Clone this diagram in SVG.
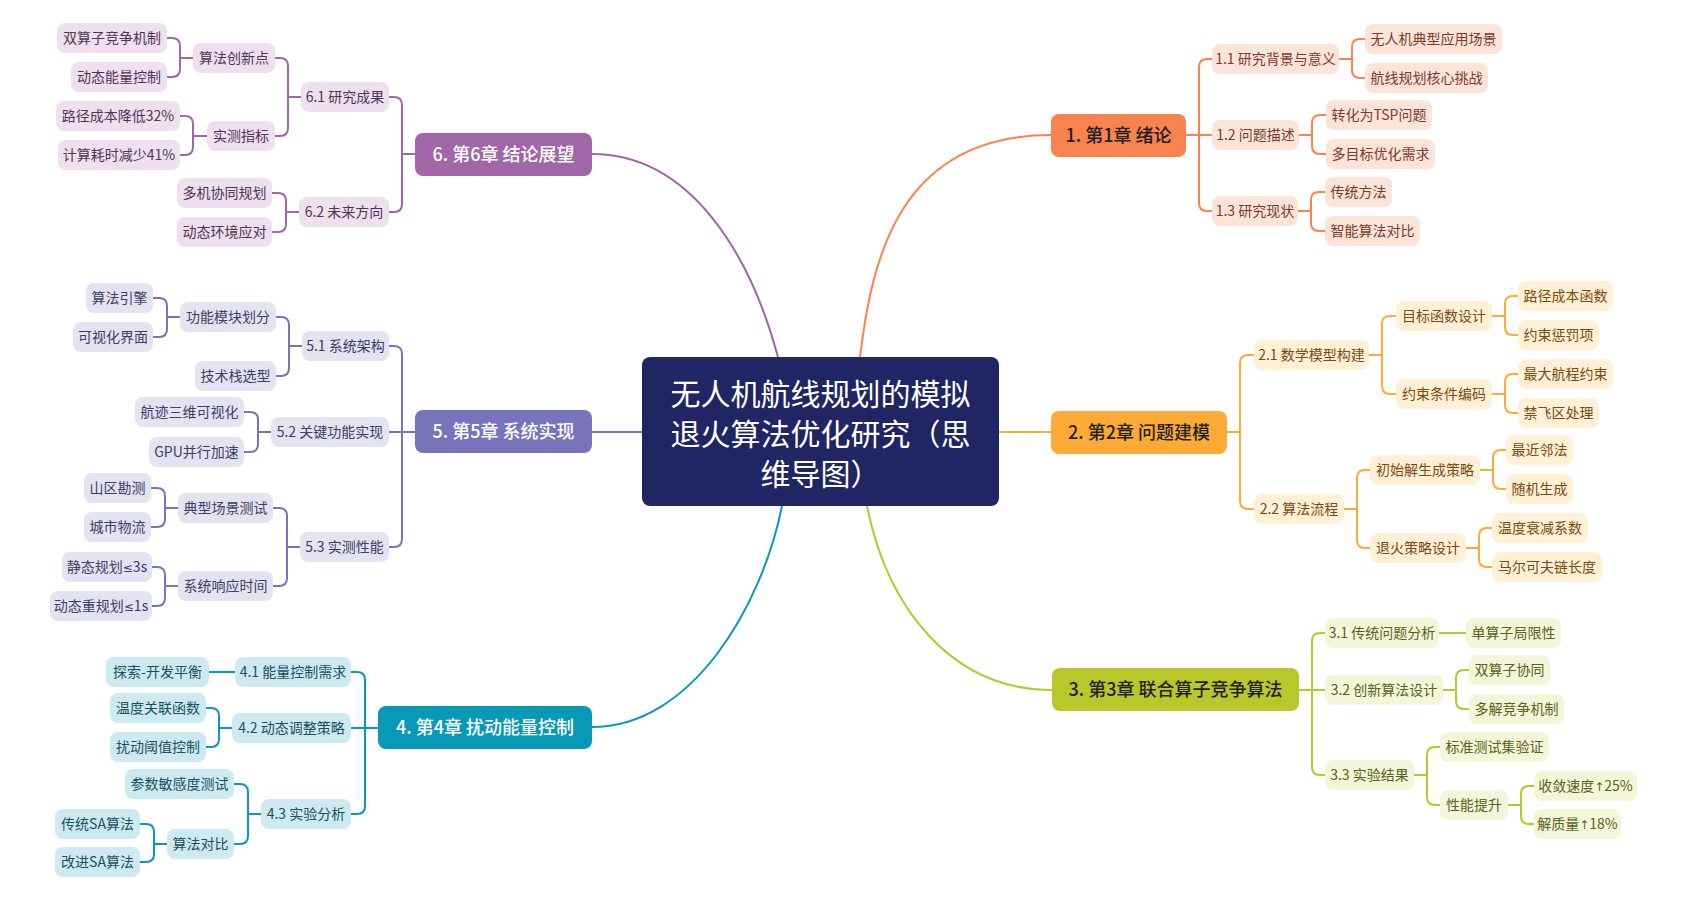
<svg xmlns="http://www.w3.org/2000/svg" width="1688" height="900" viewBox="0 0 1688 900">
<style>
text{font-family:"Noto Sans CJK SC","Noto Sans",sans-serif;text-anchor:middle}
.s{font-size:14px}
.ch{font-size:18px;font-weight:500}
.rt{font-size:30px;fill:#ffffff}
.sym{font-family:"DejaVu Sans",sans-serif;font-size:12px}
.l1{stroke:#F8834F}.l2{stroke:#FDAA36}.l3{stroke:#B9C72B}.l4{stroke:#0899B7}.l5{stroke:#7774BC}.l6{stroke:#A066A8}
.f1{fill:#FDE4D9}.f2{fill:#FFF0D6}.f3{fill:#F3F6D9}.f4{fill:#CDEAF2}.f5{fill:#E4E3F2}.f6{fill:#EEE0EF}
.t1{fill:#7A3A2C}.t2{fill:#7A4A10}.t3{fill:#5B6120}.t4{fill:#1D4F5C}.t5{fill:#3E3D63}.t6{fill:#4F3555}
.F1{fill:#F8834F}.F2{fill:#FDAA36}.F3{fill:#B9C72B}.F4{fill:#0899B7}.F5{fill:#7774BC}.F6{fill:#A066A8}
.dk{fill:#1f1f1f}.wt{fill:#ffffff}
</style>
<rect width="1688" height="900" fill="#ffffff"/>
<g id="connectors" fill="none" stroke-width="2">
<g class="l6"><path d="M592,154 C692,154 751,257 778,357"/>
<path d="M415,154 H402 V105 Q402,97 394,97 H389"/><path d="M415,154 H402 V204 Q402,212 394,212 H389"/>
<path d="M301,97 H288 V66 Q288,58 280,58 H275"/><path d="M301,97 H288 V128 Q288,136 280,136 H275"/>
<path d="M193,58 H180 V46 Q180,38 172,38 H167"/><path d="M193,58 H180 V69 Q180,77 172,77 H167"/>
<path d="M207,136 H193 V124 Q193,116 185,116 H180"/><path d="M207,136 H193 V147 Q193,155 185,155 H180"/>
<path d="M299,212 H286 V201 Q286,193 278,193 H272"/><path d="M299,212 H286 V224 Q286,232 278,232 H272"/></g>
<g class="l1"><path d="M1051,135 C900,135 872,257 860,357"/>
<path d="M1186,135 H1199 V67 Q1199,59 1207,59 H1212"/><path d="M1186,135 H1212"/><path d="M1186,135 H1199 V203 Q1199,211 1207,211 H1212"/>
<path d="M1339,59 H1352 V47 Q1352,39 1360,39 H1365"/><path d="M1339,59 H1352 V70 Q1352,78 1360,78 H1365"/>
<path d="M1299,135 H1312 V123 Q1312,115 1320,115 H1326"/><path d="M1299,135 H1312 V146 Q1312,154 1320,154 H1326"/>
<path d="M1298,211 H1311 V200 Q1311,192 1319,192 H1325"/><path d="M1298,211 H1311 V223 Q1311,231 1319,231 H1325"/></g>
<g class="l2"><path d="M999,432 H1051"/>
<path d="M1227,432 H1240 V363 Q1240,355 1248,355 H1254"/><path d="M1227,432 H1240 V501 Q1240,509 1248,509 H1254"/>
<path d="M1369,355 H1382 V324 Q1382,316 1390,316 H1396"/><path d="M1369,355 H1382 V386 Q1382,394 1390,394 H1396"/>
<path d="M1492,316 H1505 V304 Q1505,296 1513,296 H1518"/><path d="M1492,316 H1505 V327 Q1505,335 1513,335 H1518"/>
<path d="M1492,394 H1505 V382 Q1505,374 1513,374 H1518"/><path d="M1492,394 H1505 V405 Q1505,413 1513,413 H1518"/>
<path d="M1344,509 H1357 V478 Q1357,470 1365,470 H1370"/><path d="M1344,509 H1357 V540 Q1357,548 1365,548 H1370"/>
<path d="M1480,470 H1493 V458 Q1493,450 1501,450 H1506"/><path d="M1480,470 H1493 V481 Q1493,489 1501,489 H1506"/>
<path d="M1466,548 H1479 V536 Q1479,528 1487,528 H1492"/><path d="M1466,548 H1479 V559 Q1479,567 1487,567 H1492"/></g>
<g class="l3"><path d="M867,506 C887,606 950,690 1052,690"/>
<path d="M1299,690 H1312 V641 Q1312,633 1320,633 H1325"/><path d="M1299,690 H1325"/><path d="M1299,690 H1312 V767 Q1312,775 1320,775 H1325"/>
<path d="M1439,633 H1466"/>
<path d="M1443,690 H1456 V678 Q1456,670 1464,670 H1469"/><path d="M1443,690 H1456 V701 Q1456,709 1464,709 H1469"/>
<path d="M1414,775 H1427 V755 Q1427,747 1435,747 H1440"/><path d="M1414,775 H1427 V797 Q1427,805 1435,805 H1440"/>
<path d="M1508,805 H1521 V794 Q1521,786 1529,786 H1534"/><path d="M1508,805 H1521 V816 Q1521,824 1529,824 H1534"/></g>
<g class="l4"><path d="M782,506 C762,606 692,727 592,727"/>
<path d="M378,728 H365 V680 Q365,672 357,672 H351"/><path d="M378,728 H351"/><path d="M378,728 H365 V806 Q365,814 357,814 H351"/>
<path d="M235,672 H209"/>
<path d="M232,728 H219 V716 Q219,708 211,708 H206"/><path d="M232,728 H219 V739 Q219,747 211,747 H206"/>
<path d="M261,814 H248 V792 Q248,784 240,784 H234"/><path d="M261,814 H248 V836 Q248,844 240,844 H234"/>
<path d="M167,844 H154 V832 Q154,824 146,824 H140"/><path d="M167,844 H154 V854 Q154,862 146,862 H140"/></g>
<g class="l5"><path d="M592,432 H642"/>
<path d="M415,432 H402 V354 Q402,346 394,346 H389"/><path d="M415,432 H389"/><path d="M415,432 H402 V539 Q402,547 394,547 H389"/>
<path d="M302,346 H289 V325 Q289,317 281,317 H276"/><path d="M302,346 H289 V368 Q289,376 281,376 H276"/>
<path d="M180,317 H167 V306 Q167,298 159,298 H153"/><path d="M180,317 H167 V329 Q167,337 159,337 H153"/>
<path d="M271,432 H258 V420 Q258,412 250,412 H244"/><path d="M271,432 H258 V444 Q258,452 250,452 H244"/>
<path d="M300,547 H287 V516 Q287,508 279,508 H273"/><path d="M300,547 H287 V578 Q287,586 279,586 H273"/>
<path d="M178,508 H165 V496 Q165,488 157,488 H151"/><path d="M178,508 H165 V519 Q165,527 157,527 H151"/>
<path d="M178,586 H165 V575 Q165,567 157,567 H152"/><path d="M178,586 H165 V598 Q165,606 157,606 H152"/></g>
</g>

<g id="root"><rect x="642" y="357" width="357" height="149" rx="8" fill="#202563"/>
<text class="rt" x="820.5" y="405">无人机航线规划的模拟</text>
<text class="rt" x="820.5" y="445">退火算法优化研究（思</text>
<text class="rt" x="820.5" y="485">维导图）</text></g>

<g id="ch1"><rect class="F1" x="1051" y="114" width="135" height="43" rx="8"/><text class="ch dk" x="1118.5" y="142">1. 第1章 绪论</text></g>
<g id="n11"><rect class="f1" x="1212" y="44" width="127" height="30" rx="8"/><text class="s t1" x="1275.5" y="64">1.1 研究背景与意义</text></g>
<g id="n111"><rect class="f1" x="1365" y="24" width="137" height="30" rx="8"/><text class="s t1" x="1433.5" y="44">无人机典型应用场景</text></g>
<g id="n112"><rect class="f1" x="1365" y="63" width="123" height="30" rx="8"/><text class="s t1" x="1426.5" y="83">航线规划核心挑战</text></g>
<g id="n12"><rect class="f1" x="1212" y="120" width="87" height="30" rx="8"/><text class="s t1" x="1255.5" y="140">1.2 问题描述</text></g>
<g id="n121"><rect class="f1" x="1326" y="100" width="106" height="30" rx="8"/><text class="s t1" x="1379" y="120">转化为TSP问题</text></g>
<g id="n122"><rect class="f1" x="1326" y="139" width="109" height="30" rx="8"/><text class="s t1" x="1380.5" y="159">多目标优化需求</text></g>
<g id="n13"><rect class="f1" x="1212" y="196" width="86" height="30" rx="8"/><text class="s t1" x="1255" y="216">1.3 研究现状</text></g>
<g id="n131"><rect class="f1" x="1325" y="177" width="67" height="30" rx="8"/><text class="s t1" x="1358.5" y="197">传统方法</text></g>
<g id="n132"><rect class="f1" x="1325" y="216" width="95" height="30" rx="8"/><text class="s t1" x="1372.5" y="236">智能算法对比</text></g>

<g id="ch2"><rect class="F2" x="1051" y="411" width="176" height="43" rx="8"/><text class="ch dk" x="1139" y="439">2. 第2章 问题建模</text></g>
<g id="n21"><rect class="f2" x="1254" y="340" width="115" height="30" rx="8"/><text class="s t2" x="1311.5" y="360">2.1 数学模型构建</text></g>
<g id="n211"><rect class="f2" x="1396" y="301" width="96" height="30" rx="8"/><text class="s t2" x="1444" y="321">目标函数设计</text></g>
<g id="n2111"><rect class="f2" x="1518" y="281" width="95" height="30" rx="8"/><text class="s t2" x="1565.5" y="301">路径成本函数</text></g>
<g id="n2112"><rect class="f2" x="1518" y="320" width="81" height="30" rx="8"/><text class="s t2" x="1558.5" y="340">约束惩罚项</text></g>
<g id="n212"><rect class="f2" x="1396" y="379" width="96" height="30" rx="8"/><text class="s t2" x="1444" y="399">约束条件编码</text></g>
<g id="n2121"><rect class="f2" x="1518" y="359" width="95" height="30" rx="8"/><text class="s t2" x="1565.5" y="379">最大航程约束</text></g>
<g id="n2122"><rect class="f2" x="1518" y="398" width="81" height="30" rx="8"/><text class="s t2" x="1558.5" y="418">禁飞区处理</text></g>
<g id="n22"><rect class="f2" x="1254" y="494" width="90" height="30" rx="8"/><text class="s t2" x="1299" y="514">2.2 算法流程</text></g>
<g id="n221"><rect class="f2" x="1370" y="455" width="110" height="30" rx="8"/><text class="s t2" x="1425" y="475">初始解生成策略</text></g>
<g id="n2211"><rect class="f2" x="1506" y="435" width="67" height="30" rx="8"/><text class="s t2" x="1539.5" y="455">最近邻法</text></g>
<g id="n2212"><rect class="f2" x="1506" y="474" width="67" height="30" rx="8"/><text class="s t2" x="1539.5" y="494">随机生成</text></g>
<g id="n222"><rect class="f2" x="1370" y="533" width="96" height="30" rx="8"/><text class="s t2" x="1418" y="553">退火策略设计</text></g>
<g id="n2221"><rect class="f2" x="1492" y="513" width="96" height="30" rx="8"/><text class="s t2" x="1540" y="533">温度衰减系数</text></g>
<g id="n2222"><rect class="f2" x="1492" y="552" width="110" height="30" rx="8"/><text class="s t2" x="1547" y="572">马尔可夫链长度</text></g>

<g id="ch3"><rect class="F3" x="1052" y="668" width="247" height="43" rx="8"/><text class="ch dk" x="1175.5" y="696">3. 第3章 联合算子竞争算法</text></g>
<g id="n31"><rect class="f3" x="1325" y="618" width="114" height="30" rx="8"/><text class="s t3" x="1382" y="638">3.1 传统问题分析</text></g>
<g id="n311"><rect class="f3" x="1466" y="618" width="95" height="30" rx="8"/><text class="s t3" x="1513.5" y="638">单算子局限性</text></g>
<g id="n32"><rect class="f3" x="1325" y="675" width="118" height="30" rx="8"/><text class="s t3" x="1384" y="695">3.2 创新算法设计</text></g>
<g id="n321"><rect class="f3" x="1469" y="655" width="81" height="30" rx="8"/><text class="s t3" x="1509.5" y="675">双算子协同</text></g>
<g id="n322"><rect class="f3" x="1469" y="694" width="95" height="30" rx="8"/><text class="s t3" x="1516.5" y="714">多解竞争机制</text></g>
<g id="n33"><rect class="f3" x="1325" y="760" width="89" height="30" rx="8"/><text class="s t3" x="1369.5" y="780">3.3 实验结果</text></g>
<g id="n331"><rect class="f3" x="1440" y="732" width="109" height="30" rx="8"/><text class="s t3" x="1494.5" y="752">标准测试集验证</text></g>
<g id="n332"><rect class="f3" x="1440" y="790" width="68" height="30" rx="8"/><text class="s t3" x="1474" y="810">性能提升</text></g>
<g id="n3321"><rect class="f3" x="1534" y="771" width="103" height="30" rx="8"/><text class="s t3" x="1585.5" y="791">收敛速度<tspan class="sym">↑</tspan>25%</text></g>
<g id="n3322"><rect class="f3" x="1534" y="809" width="87" height="30" rx="8"/><text class="s t3" x="1577.5" y="829">解质量<tspan class="sym">↑</tspan>18%</text></g>

<g id="ch4"><rect class="F4" x="378" y="706" width="214" height="43" rx="8"/><text class="ch wt" x="485" y="734">4. 第4章 扰动能量控制</text></g>
<g id="n41"><rect class="f4" x="235" y="657" width="116" height="30" rx="8"/><text class="s t4" x="293" y="677">4.1 能量控制需求</text></g>
<g id="n411"><rect class="f4" x="106" y="657" width="103" height="30" rx="8"/><text class="s t4" x="157.5" y="677">探索-开发平衡</text></g>
<g id="n42"><rect class="f4" x="232" y="713" width="119" height="30" rx="8"/><text class="s t4" x="291.5" y="733">4.2 动态调整策略</text></g>
<g id="n421"><rect class="f4" x="110" y="693" width="96" height="30" rx="8"/><text class="s t4" x="158" y="713">温度关联函数</text></g>
<g id="n422"><rect class="f4" x="110" y="732" width="96" height="30" rx="8"/><text class="s t4" x="158" y="752">扰动阈值控制</text></g>
<g id="n43"><rect class="f4" x="261" y="799" width="90" height="30" rx="8"/><text class="s t4" x="306" y="819">4.3 实验分析</text></g>
<g id="n431"><rect class="f4" x="125" y="769" width="109" height="30" rx="8"/><text class="s t4" x="179.5" y="789">参数敏感度测试</text></g>
<g id="n432"><rect class="f4" x="167" y="829" width="67" height="30" rx="8"/><text class="s t4" x="200.5" y="849">算法对比</text></g>
<g id="n4321"><rect class="f4" x="55" y="809" width="85" height="30" rx="8"/><text class="s t4" x="97.5" y="829">传统SA算法</text></g>
<g id="n4322"><rect class="f4" x="55" y="847" width="85" height="30" rx="8"/><text class="s t4" x="97.5" y="867">改进SA算法</text></g>

<g id="ch5"><rect class="F5" x="415" y="410" width="177" height="43" rx="8"/><text class="ch wt" x="503.5" y="438">5. 第5章 系统实现</text></g>
<g id="n51"><rect class="f5" x="302" y="331" width="87" height="30" rx="8"/><text class="s t5" x="345.5" y="351">5.1 系统架构</text></g>
<g id="n511"><rect class="f5" x="180" y="302" width="96" height="30" rx="8"/><text class="s t5" x="228" y="322">功能模块划分</text></g>
<g id="n5111"><rect class="f5" x="86" y="283" width="67" height="30" rx="8"/><text class="s t5" x="119.5" y="303">算法引擎</text></g>
<g id="n5112"><rect class="f5" x="73" y="322" width="80" height="30" rx="8"/><text class="s t5" x="113" y="342">可视化界面</text></g>
<g id="n512"><rect class="f5" x="195" y="361" width="81" height="30" rx="8"/><text class="s t5" x="235.5" y="381">技术栈选型</text></g>
<g id="n52"><rect class="f5" x="271" y="417" width="118" height="30" rx="8"/><text class="s t5" x="330" y="437">5.2 关键功能实现</text></g>
<g id="n521"><rect class="f5" x="135" y="397" width="109" height="30" rx="8"/><text class="s t5" x="189.5" y="417">航迹三维可视化</text></g>
<g id="n522"><rect class="f5" x="149" y="437" width="95" height="30" rx="8"/><text class="s t5" x="196.5" y="457">GPU并行加速</text></g>
<g id="n53"><rect class="f5" x="300" y="532" width="89" height="30" rx="8"/><text class="s t5" x="344.5" y="552">5.3 实测性能</text></g>
<g id="n531"><rect class="f5" x="178" y="493" width="95" height="30" rx="8"/><text class="s t5" x="225.5" y="513">典型场景测试</text></g>
<g id="n5311"><rect class="f5" x="84" y="473" width="67" height="30" rx="8"/><text class="s t5" x="117.5" y="493">山区勘测</text></g>
<g id="n5312"><rect class="f5" x="84" y="512" width="67" height="30" rx="8"/><text class="s t5" x="117.5" y="532">城市物流</text></g>
<g id="n532"><rect class="f5" x="178" y="571" width="95" height="30" rx="8"/><text class="s t5" x="225.5" y="591">系统响应时间</text></g>
<g id="n5321"><rect class="f5" x="62" y="552" width="90" height="30" rx="8"/><text class="s t5" x="107" y="572">静态规划<tspan class="sym">≤</tspan>3s</text></g>
<g id="n5322"><rect class="f5" x="50" y="591" width="102" height="30" rx="8"/><text class="s t5" x="101" y="611">动态重规划<tspan class="sym">≤</tspan>1s</text></g>

<g id="ch6"><rect class="F6" x="415" y="133" width="177" height="43" rx="8"/><text class="ch wt" x="503.5" y="161">6. 第6章 结论展望</text></g>
<g id="n61"><rect class="f6" x="301" y="82" width="88" height="30" rx="8"/><text class="s t6" x="345" y="102">6.1 研究成果</text></g>
<g id="n611"><rect class="f6" x="193" y="43" width="82" height="30" rx="8"/><text class="s t6" x="234" y="63">算法创新点</text></g>
<g id="n6111"><rect class="f6" x="57" y="23" width="110" height="30" rx="8"/><text class="s t6" x="112" y="43">双算子竞争机制</text></g>
<g id="n6112"><rect class="f6" x="71" y="62" width="96" height="30" rx="8"/><text class="s t6" x="119" y="82">动态能量控制</text></g>
<g id="n612"><rect class="f6" x="207" y="121" width="68" height="30" rx="8"/><text class="s t6" x="241" y="141">实测指标</text></g>
<g id="n6121"><rect class="f6" x="56" y="101" width="124" height="30" rx="8"/><text class="s t6" x="118" y="121">路径成本降低32%</text></g>
<g id="n6122"><rect class="f6" x="58" y="140" width="122" height="30" rx="8"/><text class="s t6" x="119" y="160">计算耗时减少41%</text></g>
<g id="n62"><rect class="f6" x="299" y="197" width="90" height="30" rx="8"/><text class="s t6" x="344" y="217">6.2 未来方向</text></g>
<g id="n621"><rect class="f6" x="177" y="178" width="95" height="30" rx="8"/><text class="s t6" x="224.5" y="198">多机协同规划</text></g>
<g id="n622"><rect class="f6" x="177" y="217" width="95" height="30" rx="8"/><text class="s t6" x="224.5" y="237">动态环境应对</text></g>
</svg>
